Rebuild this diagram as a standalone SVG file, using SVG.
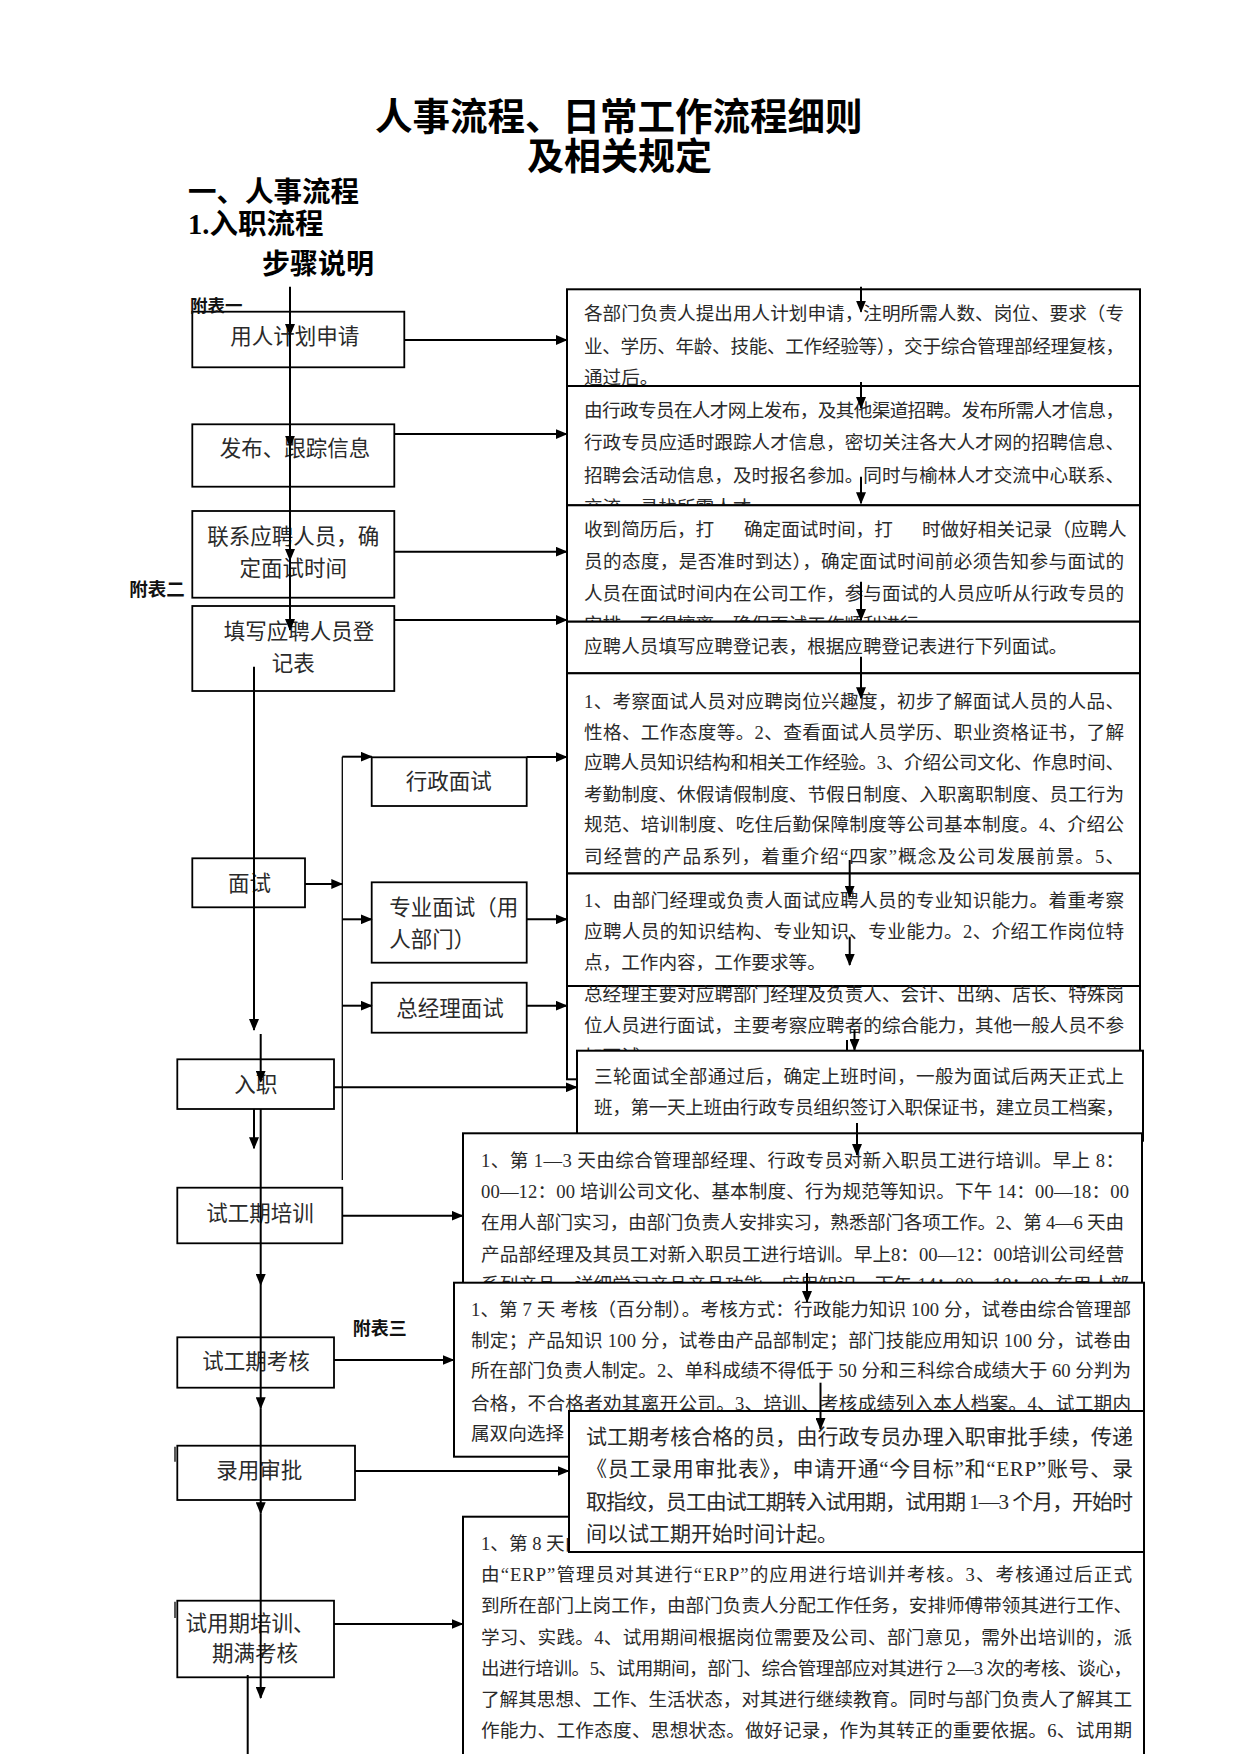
<svg xmlns="http://www.w3.org/2000/svg" width="1241" height="1754" viewBox="0 0 1241 1754">
<style>
.h{font-family:"Liberation Serif","Noto Sans CJK SC",serif;font-weight:bold;fill:#000}
.fb{font-family:"Liberation Serif","Noto Sans CJK SC",serif;font-weight:bold;fill:#111}
.bx{fill:#fff;stroke:#000;stroke-width:2}
.lb{fill:#fff;stroke:#000;stroke-width:1.8}
.r{font-family:"Liberation Serif","Noto Sans CJK SC",serif;font-size:18.6px;fill:#2a2a2a}
.r2{font-family:"Liberation Serif","Noto Sans CJK SC",serif;font-size:21px;fill:#2a2a2a}
.l{font-family:"Liberation Serif","Noto Sans CJK SC",serif;font-size:21.5px;fill:#2a2a2a;text-anchor:middle}
.ls{font-family:"Liberation Serif","Noto Sans CJK SC",serif;font-size:21.5px;fill:#2a2a2a}
.c line{stroke:#000;stroke-width:2;fill:none}
.c .m{marker-end:url(#ah)}
.c .thin{stroke-width:1.3}
</style>
<defs>
<marker id="ah" viewBox="0 0 12 10" refX="11" refY="5" markerWidth="12" markerHeight="10" markerUnits="userSpaceOnUse" orient="auto"><path d="M0,0 L12,5 L0,10 z" fill="#000"/></marker>
</defs>
<rect width="1241" height="1754" fill="#fff"/>

<g id="titles">
<text class="h" x="375" y="130" font-size="37.5">人事流程、日常工作流程细则</text>
<text class="h" x="527" y="170" font-size="37">及相关规定</text>
<text class="h" x="188" y="202" font-size="28.5">一、人事流程</text>
<text class="h" x="188" y="233.6" font-size="28.5">1.入职流程</text>
<text class="h" x="262" y="273.6" font-size="28">步骤说明</text>
</g>

<g id="right-boxes">
<g id="d1">
<rect class="bx" x="567" y="289.3" width="573" height="96.7"/>
<text class="r" x="584" y="320.2" textLength="540" lengthAdjust="spacing">各部门负责人提出用人计划申请，注明所需人数、岗位、要求（专</text>
<text class="r" x="584" y="352.7" textLength="540" lengthAdjust="spacing">业、学历、年龄、技能、工作经验等），交于综合管理部经理复核，</text>
<text class="r" x="584" y="383.7">通过后。</text>
</g>
<g id="d2">
<rect class="bx" x="567" y="386" width="573" height="119.3"/>
<text class="r" x="584" y="416.7" textLength="540" lengthAdjust="spacing">由行政专员在人才网上发布，及其他渠道招聘。发布所需人才信息，</text>
<text class="r" x="584" y="449.2" textLength="540" lengthAdjust="spacing">行政专员应适时跟踪人才信息，密切关注各大人才网的招聘信息、</text>
<text class="r" x="584" y="481.7" textLength="540" lengthAdjust="spacing">招聘会活动信息，及时报名参加。同时与榆林人才交流中心联系、</text>
<text class="r" x="584" y="513.7">交流，寻找所需人才。</text>
</g>
<g id="d3">
<rect class="bx" x="567" y="505.3" width="573" height="116.4"/>
<text class="r" y="536.2"><tspan x="584">收到简历后，打</tspan><tspan x="744">确定面试时间，打</tspan><tspan x="922">时做好相关记录（应聘人</tspan></text>
<text class="r" x="584" y="568.2" textLength="540" lengthAdjust="spacing">员的态度，是否准时到达），确定面试时间前必须告知参与面试的</text>
<text class="r" x="584" y="600.2" textLength="540" lengthAdjust="spacing">人员在面试时间内在公司工作，参与面试的人员应听从行政专员的</text>
<text class="r" x="584" y="631.2">安排，不得擅离，确保面试工作顺利进行。</text>
</g>
<g id="d4">
<rect class="bx" x="567" y="621.7" width="573" height="51.6"/>
<text class="r" x="584" y="653.4">应聘人员填写应聘登记表，根据应聘登记表进行下列面试。</text>
</g>
<g id="d5">
<rect class="bx" x="567" y="673.3" width="573" height="200.2"/>
<text class="r" x="584" y="707.7" textLength="540" lengthAdjust="spacing">1、考察面试人员对应聘岗位兴趣度，初步了解面试人员的人品、</text>
<text class="r" x="584" y="738.5" textLength="540" lengthAdjust="spacing">性格、工作态度等。2、查看面试人员学历、职业资格证书，了解</text>
<text class="r" x="584" y="769.2" textLength="540" lengthAdjust="spacing">应聘人员知识结构和相关工作经验。3、介绍公司文化、作息时间、</text>
<text class="r" x="584" y="800.7" textLength="540" lengthAdjust="spacing">考勤制度、休假请假制度、节假日制度、入职离职制度、员工行为</text>
<text class="r" x="584" y="831.3" textLength="540" lengthAdjust="spacing">规范、培训制度、吃住后勤保障制度等公司基本制度。4、介绍公</text>
<text class="r" x="584" y="862.7" textLength="540" lengthAdjust="spacing">司经营的产品系列，着重介绍“四家”概念及公司发展前景。5、</text>
</g>
<g id="d6">
<rect class="bx" x="567" y="873.5" width="573" height="112.5"/>
<text class="r" x="584" y="907.4" textLength="540" lengthAdjust="spacing">1、由部门经理或负责人面试应聘人员的专业知识能力。着重考察</text>
<text class="r" x="584" y="938" textLength="540" lengthAdjust="spacing">应聘人员的知识结构、专业知识、专业能力。2、介绍工作岗位特</text>
<text class="r" x="584" y="968.7">点，工作内容，工作要求等。</text>
</g>
<g id="d7">
<rect class="bx" x="567" y="986" width="573" height="93.3"/>
<text class="r" x="584" y="1001.2" textLength="540" lengthAdjust="spacing">总经理主要对应聘部门经理及负责人、会计、出纳、店长、特殊岗</text>
<text class="r" x="584" y="1031.7" textLength="540" lengthAdjust="spacing">位人员进行面试，主要考察应聘者的综合能力，其他一般人员不参</text>
<text class="r" x="584" y="1062.7">加面试。</text>
</g>
<g id="d8">
<rect class="bx" x="577" y="1050.7" width="566" height="90"/>
<text class="r" x="594" y="1082.7" textLength="530" lengthAdjust="spacing">三轮面试全部通过后，确定上班时间，一般为面试后两天正式上</text>
<text class="r" x="594" y="1114.2" textLength="530" lengthAdjust="spacing">班，第一天上班由行政专员组织签订入职保证书，建立员工档案，</text>
</g>
<g id="d9">
<rect class="bx" x="463" y="1133.3" width="679" height="160"/>
<text class="r" x="481" y="1166.7" textLength="643" lengthAdjust="spacing">1、第 1—3 天由综合管理部经理、行政专员对新入职员工进行培训。早上 8：</text>
<text class="r" x="481" y="1198.2" textLength="648" lengthAdjust="spacing">00—12：00 培训公司文化、基本制度、行为规范等知识。下午 14：00—18：00</text>
<text class="r" x="481" y="1228.7" textLength="643" lengthAdjust="spacing">在用人部门实习，由部门负责人安排实习，熟悉部门各项工作。2、第 4—6 天由</text>
<text class="r" x="481" y="1260.7" textLength="643" lengthAdjust="spacing">产品部经理及其员工对新入职员工进行培训。早上8：00—12：00培训公司经营</text>
<text class="r" x="481" y="1290.7" textLength="648" lengthAdjust="spacing">系列产品，详细学习产品产品功能，应用知识，下午 14：00—18：00 在用人部</text>
</g>
<g id="d10">
<rect class="bx" x="454" y="1282.7" width="690" height="174"/>
<text class="r" x="471" y="1316" textLength="660" lengthAdjust="spacing">1、第 7 天  考核（百分制）。考核方式：行政能力知识 100 分，试卷由综合管理部</text>
<text class="r" x="471" y="1346.7" textLength="660" lengthAdjust="spacing">制定；产品知识 100 分，试卷由产品部制定；部门技能应用知识 100 分，试卷由</text>
<text class="r" x="471" y="1377.2" textLength="660" lengthAdjust="spacing">所在部门负责人制定。2、单科成绩不得低于 50 分和三科综合成绩大于 60 分判为</text>
<text class="r" x="471" y="1409.7" textLength="660" lengthAdjust="spacing">合格，不合格者劝其离开公司。3、培训、考核成绩列入本人档案。4、试工期内</text>
<text class="r" x="471" y="1440">属双向选择</text>
</g>
<g id="d12">
<rect class="bx" x="463" y="1516.7" width="681" height="300"/>
<text class="r" x="481" y="1549.7">1、第 8 天由</text>
<text class="r" x="481" y="1581" textLength="651" lengthAdjust="spacing">由“ERP”管理员对其进行“ERP”的应用进行培训并考核。3、考核通过后正式</text>
<text class="r" x="481" y="1612.3" textLength="651" lengthAdjust="spacing">到所在部门上岗工作，由部门负责人分配工作任务，安排师傅带领其进行工作、</text>
<text class="r" x="481" y="1643.6" textLength="651" lengthAdjust="spacing">学习、实践。4、试用期间根据岗位需要及公司、部门意见，需外出培训的，派</text>
<text class="r" x="481" y="1674.9" textLength="651" lengthAdjust="spacing">出进行培训。5、试用期间，部门、综合管理部应对其进行 2—3 次的考核、谈心，</text>
<text class="r" x="481" y="1706.2" textLength="651" lengthAdjust="spacing">了解其思想、工作、生活状态，对其进行继续教育。同时与部门负责人了解其工</text>
<text class="r" x="481" y="1737.3" textLength="651" lengthAdjust="spacing">作能力、工作态度、思想状态。做好记录，作为其转正的重要依据。6、试用期</text>
</g>
<g id="d11">
<rect class="bx" x="569" y="1411" width="575" height="141"/>
<text class="r2" x="586" y="1443.6" textLength="547" lengthAdjust="spacing">试工期考核合格的员，由行政专员办理入职审批手续，传递</text>
<text class="r2" x="586" y="1476.1" textLength="547" lengthAdjust="spacing">《员工录用审批表》，申请开通“今目标”和“ERP”账号、录</text>
<text class="r2" x="586" y="1508.6" textLength="547" lengthAdjust="spacing">取指纹，员工由试工期转入试用期，试用期 1—3 个月，开始时</text>
<text class="r2" x="586" y="1540.6">间以试工期开始时间计起。</text>
</g>
</g>

<g id="left-nodes">
<g id="n1"><rect class="lb" x="192.3" y="311.7" width="212" height="55.6"/><text class="l" x="294.7" y="344.4">用人计划申请</text></g>
<g id="n2"><rect class="lb" x="192.3" y="424.3" width="202" height="62.4"/><text class="l" x="295" y="456">发布、跟踪信息</text></g>
<g id="n3"><rect class="lb" x="192.3" y="511" width="202" height="86.7"/><text class="l" x="293.3" y="544.4">联系应聘人员，确</text><text class="l" x="293.3" y="576">定面试时间</text></g>
<g id="n4"><rect class="lb" x="192.3" y="606" width="202" height="85"/><text class="l" x="299" y="639.4">填写应聘人员登</text><text class="l" x="293.3" y="671">记表</text></g>
<g id="n5"><rect class="lb" x="192.3" y="858.3" width="112.7" height="49"/><text class="l" x="249.5" y="891">面试</text></g>
<g id="n6"><rect class="lb" x="371.7" y="757.3" width="155" height="48.7"/><text class="l" x="448.8" y="789.4">行政面试</text></g>
<g id="n7"><rect class="lb" x="371.7" y="882.3" width="155" height="80.4"/><text class="ls" x="389.3" y="915.4">专业面试（用</text><text class="ls" x="389.3" y="947">人部门）</text></g>
<g id="n8"><rect class="lb" x="371.7" y="982.7" width="155" height="50"/><text class="l" x="450" y="1016">总经理面试</text></g>
<g id="n9"><rect class="lb" x="177.3" y="1059.3" width="156.7" height="49.7"/><text class="l" x="255.8" y="1091.7">入职</text></g>
<g id="n10"><rect class="lb" x="177.3" y="1187.7" width="165" height="55.6"/><text class="l" x="260" y="1221">试工期培训</text></g>
<g id="n11"><rect class="lb" x="177.3" y="1337.3" width="156.7" height="50.4"/><text class="l" x="256" y="1369.4">试工期考核</text></g>
<g id="n12"><rect class="lb" x="177.3" y="1445.7" width="177.7" height="54.3"/><text class="l" x="259.3" y="1478.4">录用审批</text></g>
<g id="n13"><rect class="lb" x="177.3" y="1600.7" width="156.7" height="76.6"/><text class="l" x="250" y="1630.7">试用期培训、</text><text class="l" x="255" y="1661">期满考核</text></g>
</g>

<g id="labels">
<text class="fb" x="190" y="311.8" font-size="17.5">附表一</text>
<text class="fb" x="129.3" y="595.7" font-size="18.5">附表二</text>
<text class="fb" x="352.7" y="1334.8" font-size="18">附表三</text>
</g>

<g id="connectors" class="c">
<line class="m" x1="404.3" y1="340" x2="566.7" y2="340"/>
<line class="m" x1="394.3" y1="434" x2="566.7" y2="434"/>
<line class="m" x1="394.3" y1="551.7" x2="566.7" y2="551.7"/>
<line class="m" x1="394.3" y1="620" x2="566.7" y2="620"/>
<line class="m" x1="305" y1="884" x2="342.3" y2="884"/>
<line class="thin" x1="342.3" y1="756.7" x2="342.3" y2="1180"/>
<line class="m" x1="342.3" y1="756.7" x2="371.7" y2="756.7"/>
<line class="m" x1="342.3" y1="919.3" x2="371.7" y2="919.3"/>
<line class="m" x1="342.3" y1="1005.7" x2="371.7" y2="1005.7"/>
<line class="m" x1="526.7" y1="757" x2="566.7" y2="757"/>
<line class="m" x1="526.7" y1="919.3" x2="566.7" y2="919.3"/>
<line class="m" x1="526.7" y1="1005.7" x2="566.7" y2="1005.7"/>
<line class="m" x1="334" y1="1087.3" x2="576.7" y2="1087.3"/>
<line class="m" x1="342.3" y1="1215.7" x2="462.5" y2="1215.7"/>
<line class="m" x1="334" y1="1360" x2="453.5" y2="1360"/>
<line class="m" x1="355" y1="1471" x2="568.5" y2="1471"/>
<line class="m" x1="334" y1="1624" x2="462.5" y2="1624"/>
<line class="m" x1="290" y1="286.7" x2="290" y2="335"/>
<line class="m" x1="290" y1="335" x2="290" y2="446.7"/>
<line class="m" x1="290" y1="446.7" x2="290" y2="560"/>
<line class="m" x1="290" y1="560" x2="290" y2="630"/>
<line class="m" x1="254" y1="666.7" x2="254" y2="1030"/>
<line class="m" x1="260.7" y1="1034" x2="260.7" y2="1081.7"/>
<line class="m" x1="254" y1="1109" x2="254" y2="1148.3"/>
<line class="m" x1="260.7" y1="1109" x2="260.7" y2="1285"/>
<line class="m" x1="260.7" y1="1285" x2="260.7" y2="1408.3"/>
<line class="m" x1="260.7" y1="1408.3" x2="260.7" y2="1513.3"/>
<line class="m" x1="260.7" y1="1513.3" x2="260.7" y2="1698"/>
<line x1="247.7" y1="1675" x2="247.7" y2="1754"/>
<line class="m" x1="861" y1="286.7" x2="861" y2="311.7"/>
<line class="m" x1="861" y1="382" x2="861" y2="408"/>
<line class="m" x1="861" y1="476.7" x2="861" y2="503.3"/>
<line class="m" x1="861" y1="581.7" x2="861" y2="620"/>
<line class="m" x1="861" y1="656.7" x2="861" y2="698.3"/>
<line class="m" x1="849.7" y1="860" x2="849.7" y2="896.7"/>
<line class="m" x1="849.7" y1="936.7" x2="849.7" y2="965"/>
<line class="m" x1="854.5" y1="1030" x2="854.5" y2="1050"/>
<line x1="847" y1="1040" x2="847" y2="1050"/>
<line class="m" x1="857" y1="1123" x2="857" y2="1155"/>
<line class="m" x1="807" y1="1273" x2="807" y2="1302"/>
<line class="m" x1="820.5" y1="1382.7" x2="820.5" y2="1429"/>
<line class="thin" x1="175" y1="1446.7" x2="175" y2="1461.7"/>
<line class="thin" x1="175" y1="1601.7" x2="175" y2="1618"/>
</g>
</svg>
